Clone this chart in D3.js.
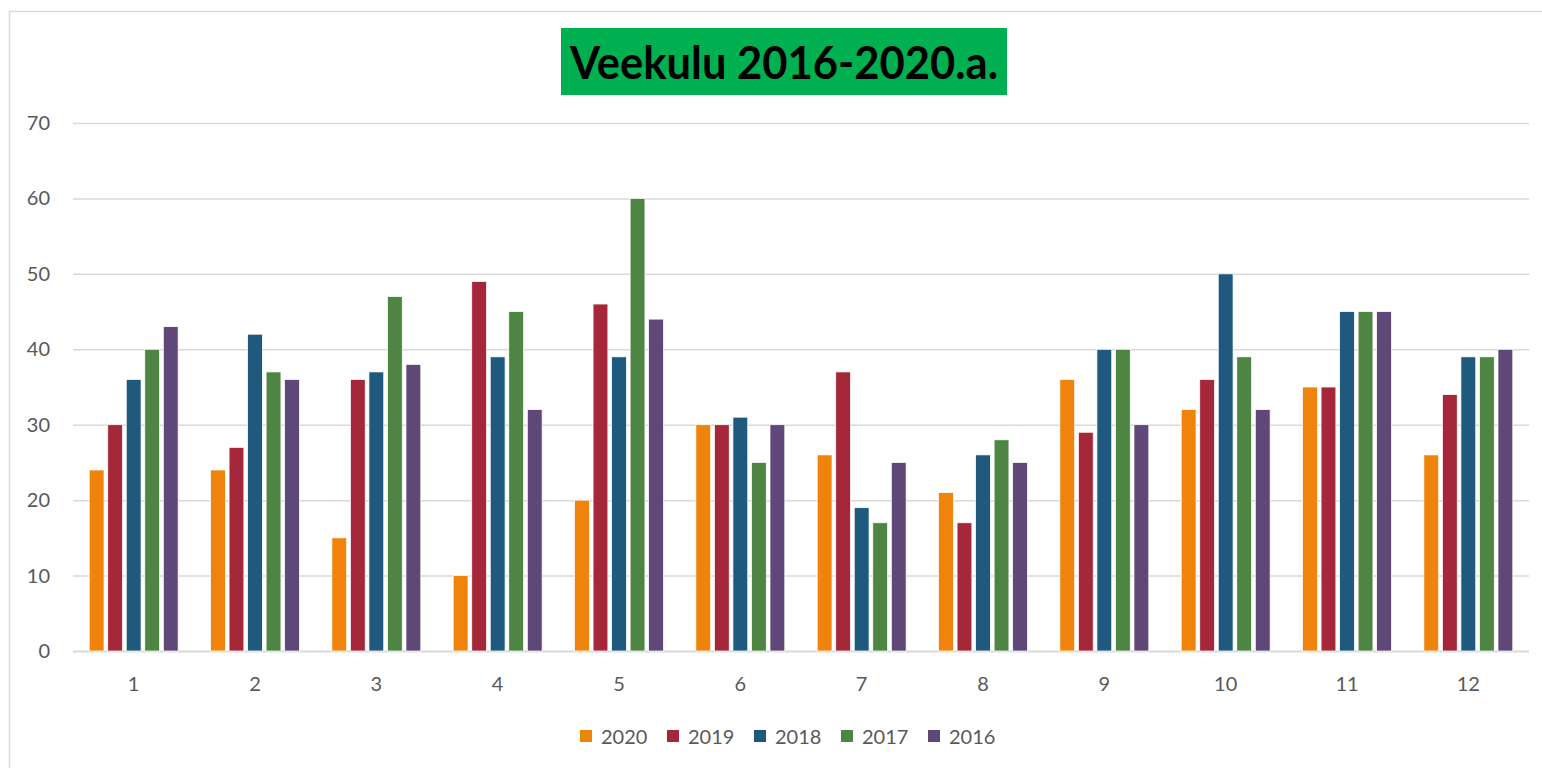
<!doctype html>
<html>
<head>
	<meta charset="UTF-8">
	<title>Veekulu</title>
	<style>
		body { margin: 0; background: #ffffff; }
		#container { font-size: 0; }
	</style>
</head>
<body>
<div id="container"></div>
<script src="https://cdn.jsdelivr.net/npm/d3@7"></script>
<script>
	var w = 1542;
	var h = 768;

	var months = ["1", "2", "3", "4", "5", "6", "7", "8", "9", "10", "11", "12"];
	var years = ["2020", "2019", "2018", "2017", "2016"];
	var colors = ["#f0830b", "#a5273a", "#1f5a7e", "#4e8542", "#5f4778"];
	var v2020 = [24, 24, 15, 10, 20, 30, 26, 21, 36, 32, 35, 26];
	var v2019 = [30, 27, 36, 49, 46, 30, 37, 17, 29, 36, 35, 34];
	var v2018 = [36, 42, 37, 39, 39, 31, 19, 26, 40, 50, 45, 39];
	var v2017 = [40, 37, 47, 45, 60, 25, 17, 28, 40, 39, 45, 39];
	var v2016 = [43, 36, 38, 32, 44, 30, 25, 25, 30, 32, 45, 40];
	var yTicks = [0, 10, 20, 30, 40, 50, 60, 70];
	var title = "Veekulu 2016-2020.a.";

	var series = [v2020, v2019, v2018, v2017, v2016];
	var font = "Lato, 'Open Sans', sans-serif";

	var svg = d3.select("#container")
			.append("svg")
			.attr("width", w)
			.attr("height", h);

	// chart frame
	svg.append("rect")
			.attr("x", 9.5).attr("y", 11.5)
			.attr("width", 1540).attr("height", 770)
			.attr("fill", "#fff")
			.attr("stroke", "#d9d9d9")
			.attr("stroke-width", 1.5);

	var xScale = d3.scaleBand()
			.domain(months)
			.range([73, 1529])
			.paddingInner(0.267)
			.paddingOuter(0.1335);
	var xInner = d3.scaleBand()
			.domain(years)
			.range([0, xScale.bandwidth()])
			.paddingInner(0.2);
	var yScale = d3.scaleLinear()
			.domain([0, 70])
			.range([651, 123]);

	// gridlines
	svg.append("g").selectAll("line")
			.data(yTicks)
			.enter()
			.append("line")
			.attr("x1", 73).attr("x2", 1529)
			.attr("y1", function (d) { return yScale(d) + 0.5; })
			.attr("y2", function (d) { return yScale(d) + 0.5; })
			.attr("stroke", "#d9d9d9")
			.attr("stroke-width", function (d) { return d === 0 ? 2 : 1.5; });

	// y labels
	svg.append("g").selectAll("text")
			.data(yTicks)
			.enter()
			.append("text")
			.attr("x", 50)
			.attr("y", function (d) { return yScale(d) + 7; })
			.attr("text-anchor", "end")
			.attr("font-family", font)
			.attr("font-size", 20)
			.attr("fill", "#595959")
			.text(function (d) { return d; });

	// bars
	var groups = svg.append("g").selectAll("g")
			.data(months)
			.enter()
			.append("g")
			.attr("transform", function (d) { return "translate(" + xScale(d) + ",0)"; });

	groups.selectAll("rect")
			.data(function (d, i) {
				return years.map(function (y, j) { return { year: y, value: series[j][i], color: colors[j] }; });
			})
			.enter()
			.append("rect")
			.attr("x", function (d) { return xInner(d.year); })
			.attr("y", function (d) { return yScale(d.value); })
			.attr("width", xInner.bandwidth())
			.attr("height", function (d) { return yScale(0) - yScale(d.value); })
			.attr("fill", function (d) { return d.color; })
			.attr("stroke", "#fff")
			.attr("stroke-width", 0.75);

	// x labels
	svg.append("g").selectAll("text")
			.data(months)
			.enter()
			.append("text")
			.attr("x", function (d) { return xScale(d) + xScale.bandwidth() / 2; })
			.attr("y", 691)
			.attr("text-anchor", "middle")
			.attr("font-family", font)
			.attr("font-size", 20)
			.attr("fill", "#595959")
			.text(function (d) { return d; });

	// title
	svg.append("rect")
			.attr("x", 561).attr("y", 28)
			.attr("width", 446).attr("height", 67)
			.attr("fill", "#00b050");
	svg.append("text")
			.attr("x", 784)
			.attr("y", 79)
			.attr("text-anchor", "middle")
			.attr("font-family", font)
			.attr("font-weight", "bold")
			.attr("font-size", 46)
			.attr("textLength", 428)
			.attr("lengthAdjust", "spacingAndGlyphs")
			.attr("fill", "#000")
			.text(title);

	// legend
	var legend = svg.append("g").selectAll("g")
			.data(years)
			.enter()
			.append("g")
			.attr("transform", function (d, i) { return "translate(" + (580 + i * 87) + ",730)"; });
	legend.append("rect")
			.attr("width", 12).attr("height", 12)
			.attr("fill", function (d, i) { return colors[i]; });
	legend.append("text")
			.attr("x", 21)
			.attr("y", 14)
			.attr("font-family", font)
			.attr("font-size", 20)
			.attr("fill", "#595959")
			.text(function (d) { return d; });
</script>
</body>
</html>
